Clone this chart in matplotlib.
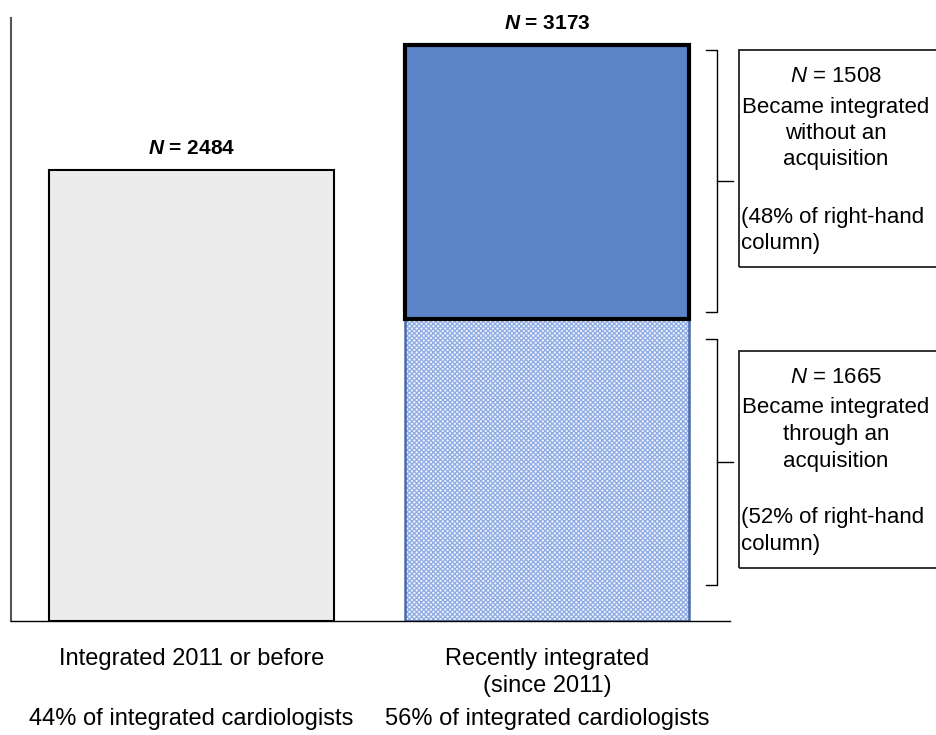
import matplotlib.pyplot as plt
from matplotlib.patches import Rectangle

plt.rcParams['font.family'] = ['Liberation Sans', 'DejaVu Sans']
plt.rcParams['mathtext.fontset'] = 'custom'
plt.rcParams['mathtext.rm'] = 'Liberation Sans'
plt.rcParams['mathtext.it'] = 'Liberation Sans:italic'
plt.rcParams['mathtext.bf'] = 'Liberation Sans:bold'
plt.rcParams['mathtext.bfit'] = 'Liberation Sans:italic:bold'
plt.rcParams['hatch.linewidth'] = 0.9

# data
columns = ['Integrated 2011 or before', 'Recently integrated\n(since 2011)']
shares = ['44% of integrated cardiologists', '56% of integrated cardiologists']
before_2011 = 2484
through_acq = 1665
without_acq = 1508
recent_total = through_acq + without_acq
split_labels = ['Became integrated\nwithout an\nacquisition',
                'Became integrated\nthrough an\nacquisition']
split_pcts = ['(48% of right-hand\ncolumn)', '(52% of right-hand\ncolumn)']

W, H = 936, 735
fig = plt.figure(figsize=(W / 100, H / 100), dpi=100)


def fx(px):
    return px / W


def fy(py):
    return 1 - py / H


ax = fig.add_axes([fx(11), fy(621), fx(730) - fx(11), fy(18) - fy(621)])
ax.set_xlim(-0.508, 1.515)
ax.set_ylim(0, 3322)

bw = 0.80
# left column
ax.bar(0, before_2011, width=bw, color='#ececec', edgecolor='black', linewidth=1.5)
# right column, bottom part (hatched)
ax.bar(1, through_acq, width=bw, color='#eef3fc', edgecolor='#8eabe3',
       hatch='xxxxxxx', linewidth=0)
ax.bar(1, through_acq, width=bw, fill=False, edgecolor='#4a6aa8', linewidth=1.8)
# right column, top part
ax.bar(1, without_acq, bottom=through_acq, width=bw, color='#5b84c9',
       edgecolor='black', linewidth=3)

for s in ['top', 'right']:
    ax.spines[s].set_visible(False)
ax.spines['left'].set_color('#555555')
ax.spines['left'].set_linewidth(1.5)
ax.spines['bottom'].set_linewidth(1.0)
ax.set_xticks([])
ax.set_yticks([])

# totals above bars
for xpos, total in [(0, before_2011), (1, recent_total)]:
    ax.annotate(r'$\bfit{N}$ = %d' % total, (xpos, total), xytext=(0, 9),
                textcoords='offset points', ha='center', va='bottom',
                fontsize=15, fontweight='bold')

# brackets
x_hook, x_stem, x_tip = 1.447, 1.478, 1.523
segments = [(through_acq + 40, recent_total - 30), (200, through_acq - 110)]
for lo, hi in segments:
    mid = (lo + hi) / 2
    ax.plot([x_hook, x_stem, x_stem, x_hook], [hi, hi, lo, lo],
            color='black', lw=1.0, clip_on=False)
    ax.plot([x_stem, x_tip], [mid, mid], color='black', lw=1.0, clip_on=False)

# boxes on the right
fs_box = 16
step = 26.5
boxes = [(50, 267), (351, 568)]
counts = [without_acq, through_acq]
for (top, bot), n, lab, pct in zip(boxes, counts, split_labels, split_pcts):
    fig.patches.append(Rectangle((fx(739), fy(bot)), fx(1000) - fx(739),
                                 fy(top) - fy(bot), transform=fig.transFigure,
                                 fill=False, edgecolor='#222222', lw=1.3))
    fig.text(fx(836), fy(top + 27), r'$N$ = %d' % n, ha='center', va='center',
             fontsize=fs_box)
    for i, line in enumerate(lab.split('\n')):
        fig.text(fx(836), fy(top + 57 + step * i), line, ha='center',
                 va='center', fontsize=fs_box)
    for i, line in enumerate(pct.split('\n')):
        fig.text(fx(741), fy(top + 167 + step * i), line, ha='left',
                 va='center', fontsize=fs_box)

# column captions
fs = 17
for cx, lab, sh in zip([191.5, 547], columns, shares):
    for i, line in enumerate(lab.split('\n')):
        fig.text(fx(cx), fy(659 + 27 * i), line, ha='center', va='center',
                 fontsize=fs)
    fig.text(fx(cx), fy(719), sh, ha='center', va='center', fontsize=fs)

fig.savefig('out.png', dpi=100)
